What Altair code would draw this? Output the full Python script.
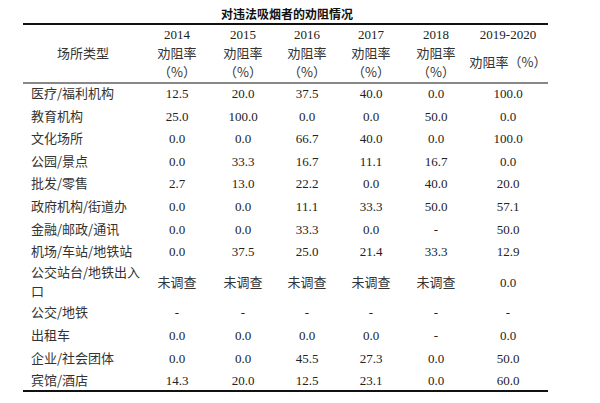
import altair as alt
import pandas as pd

# ---------------- data ----------------
title = "对违法吸烟者的劝阻情况"
header_label = "场所类型"
years = ["2014", "2015", "2016", "2017", "2018", "2019-2020"]
rate_label = "劝阻率"
pct_label = "（%）"
NS = "未调查"  # not surveyed
categories = ["医疗/福利机构", "教育机构", "文化场所", "公园/景点", "批发/零售",
              "政府机构/街道办", "金融/邮政/通讯", "机场/车站/地铁站",
              "公交站台/地铁出入\n口", "公交/地铁", "出租车", "企业/社会团体", "宾馆/酒店"]
v2014 = [12.5, 25.0, 0.0, 0.0, 2.7, 0.0, 0.0, 0.0, NS, None, 0.0, 0.0, 14.3]
v2015 = [20.0, 100.0, 0.0, 33.3, 13.0, 0.0, 0.0, 37.5, NS, None, 0.0, 0.0, 20.0]
v2016 = [37.5, 0.0, 66.7, 16.7, 22.2, 11.1, 33.3, 25.0, NS, None, 0.0, 45.5, 12.5]
v2017 = [40.0, 0.0, 40.0, 11.1, 0.0, 33.3, 0.0, 21.4, NS, None, 0.0, 27.3, 23.1]
v2018 = [0.0, 50.0, 0.0, 16.7, 40.0, 50.0, None, 33.3, NS, None, None, 0.0, 0.0]
v2019_2020 = [100.0, 0.0, 100.0, 0.0, 20.0, 57.1, 50.0, 12.9, 0.0, None, 0.0, 50.0, 60.0]
series = [v2014, v2015, v2016, v2017, v2018, v2019_2020]

# ---------------- layout ----------------
W, H, M = 600, 403, 8
X_LABEL = 31
COL_X = [177, 243, 307, 371, 436, 508]
TITLE_X, TITLE_Y = 287, 9.5
RULE_X0, RULE_X1 = 23, 548
TOP_RULE_Y, HEAD_RULE_Y, BOTTOM_RULE_Y = 24, 83, 391
YEAR_Y, RATE_Y, PCT_Y, SINGLE_RATE_Y = 35, 54, 73, 63
HEAD_LABEL_X, HEAD_LABEL_Y = 83, 54
FIRST_ROW_Y, ROW_H, EXTRA_LINE, LINE_GAP = 94, 22.6, 16, 19

SANS = "Noto Sans CJK SC"
SERIF = "Liberation Serif"
COLOR = "#222222"
CJK_COLOR = "#333333"

rows = []
rows.append(dict(x=TITLE_X, y=TITLE_Y, t=title, kind="title"))
rows.append(dict(x=HEAD_LABEL_X, y=HEAD_LABEL_Y, t=header_label, kind="head_cjk"))
for j, yr in enumerate(years):
    rows.append(dict(x=COL_X[j], y=YEAR_Y, t=yr, kind="num"))
    if j < len(years) - 1:
        rows.append(dict(x=COL_X[j], y=RATE_Y, t=rate_label, kind="head_cjk"))
        rows.append(dict(x=COL_X[j], y=PCT_Y, t=pct_label, kind="head_cjk"))
    else:
        rows.append(dict(x=COL_X[j], y=SINGLE_RATE_Y, t=rate_label + pct_label, kind="head_cjk"))

top = FIRST_ROW_Y - ROW_H / 2
for i, cat in enumerate(categories):
    lines = cat.split("\n")
    n = len(lines)
    h = ROW_H + (n - 1) * EXTRA_LINE
    cy = top + h / 2
    top += h
    for k, ln in enumerate(lines):
        rows.append(dict(x=X_LABEL, y=cy + (k - (n - 1) / 2) * LINE_GAP, t=ln, kind="label"))
    for j, s in enumerate(series):
        v = s[i]
        if v is None:
            rows.append(dict(x=COL_X[j], y=cy, t="-", kind="num"))
        elif isinstance(v, str):
            rows.append(dict(x=COL_X[j], y=cy, t=v, kind="head_cjk"))
        else:
            rows.append(dict(x=COL_X[j], y=cy, t=f"{v:.1f}", kind="num"))

df = pd.DataFrame(rows)
rules = pd.DataFrame(dict(x=[RULE_X0] * 3, x2=[RULE_X1] * 3,
                          y=[TOP_RULE_Y, HEAD_RULE_Y, BOTTOM_RULE_Y], w=[2, 1, 2]))

xs = alt.Scale(domain=[M, W - M])
ys = alt.Scale(domain=[M, H - M], reverse=True)
X = alt.X("x:Q", scale=xs, axis=None)
Y = alt.Y("y:Q", scale=ys, axis=None)

base = alt.Chart(df)
title_l = base.transform_filter(alt.datum.kind == "title").mark_text(
    font=SANS, fontSize=12, fontWeight="bold", align="center", baseline="top", color="#111111"
).encode(x=X, y=Y, text="t:N")
label_l = base.transform_filter(alt.datum.kind == "label").mark_text(
    font=SANS, fontSize=13, align="left", baseline="middle", color=CJK_COLOR
).encode(x=X, y=Y, text="t:N")
cjk_l = base.transform_filter(alt.datum.kind == "head_cjk").mark_text(
    font=SANS, fontSize=13, align="center", baseline="middle", color=CJK_COLOR
).encode(x=X, y=Y, text="t:N")
num_l = base.transform_filter(alt.datum.kind == "num").mark_text(
    font=SERIF, fontSize=13, align="center", baseline="middle", color=COLOR
).encode(x=X, y=Y, text="t:N")
rule_l = alt.Chart(rules).mark_rule(color="#111111").encode(
    x=X, x2="x2:Q", y=Y, strokeWidth=alt.StrokeWidth("w:Q", scale=None, legend=None)
)

chart = alt.layer(rule_l, title_l, label_l, cjk_l, num_l).properties(
    width=W - 2 * M, height=H - 2 * M, padding=0, background="white"
).configure_view(stroke=None)

chart.save("out.html", embed_options={"renderer": "svg", "actions": False})
